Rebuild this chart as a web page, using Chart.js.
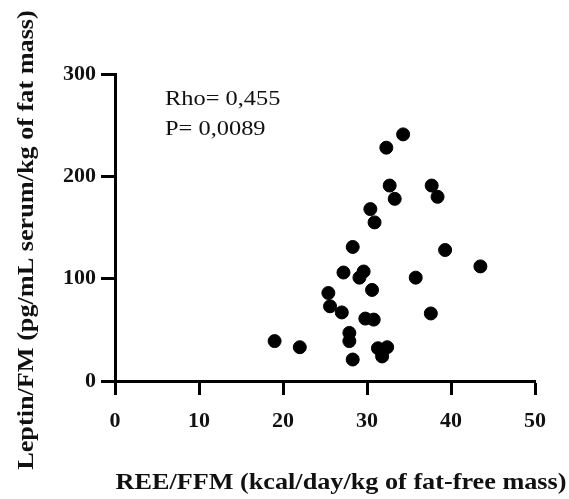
<!DOCTYPE html>
<html>
<head>
<meta charset="utf-8">
<script src="https://cdn.jsdelivr.net/npm/chart.js@4"></script>
<style>
  html, body { margin: 0; padding: 0; background: #fff; }
  #wrap { width: 569px; height: 499px; }
</style>
</head>
<body>
<div id="wrap"><canvas id="graphique"></canvas></div>
<script>
// valeurs
const reeFfm = [19.0, 22.0, 25.4, 25.6, 27.0, 27.2, 27.9, 27.9, 28.3, 28.3,
                29.1, 29.6, 29.8, 30.6, 30.8, 30.4, 30.9, 31.3, 31.8, 32.4,
                32.3, 32.7, 33.3, 34.3, 35.8, 37.6, 37.7, 38.4, 39.3, 43.5];
const leptinFm = [39, 33, 86, 73, 67, 106, 47, 39, 21, 131,
                  101, 107, 61, 89, 60, 168, 155, 32, 24, 33,
                  228, 191, 178, 241, 101, 66, 191, 180, 128, 112];
const xTicks = [0, 10, 20, 30, 40, 50];
const yTicks = [0, 100, 200, 300];
const xTitle = "REE/FFM (kcal/day/kg of fat-free mass)";
const yTitle = "Leptin/FM (pg/mL serum/kg of fat mass)";
const statsLines = ["Rho= 0,455", "P= 0,0089"];

const points = reeFfm.map((x, i) => ({ x: x, y: leptinFm[i] }));

// textes : titres des axes + statistiques (un peu etires en largeur comme l'original)
const textesPlugin = {
    id: "textes",
    afterDraw(chart) {
        const ctx = chart.ctx;
        ctx.save();
        ctx.fillStyle = "#111";
        ctx.textBaseline = "middle";

        // Rho / P
        ctx.save();
        ctx.font = "20px 'Liberation Serif'";
        ctx.textAlign = "left";
        ctx.translate(165, 0);
        ctx.scale(1.22, 1);
        ctx.fillText(statsLines[0], 0, 100);
        ctx.fillText(statsLines[1], 0, 130);
        ctx.restore();

        ctx.font = "bold 23px 'Liberation Serif'";
        ctx.textAlign = "center";

        // titre axe x
        ctx.save();
        ctx.translate(341, 483);
        ctx.scale(1.14, 1);
        ctx.fillText(xTitle, 0, 0);
        ctx.restore();

        // titre axe y (vertical)
        ctx.save();
        ctx.translate(27, 240);
        ctx.rotate(-Math.PI / 2);
        ctx.scale(1.14, 1);
        ctx.fillText(yTitle, 0, 0);
        ctx.restore();

        ctx.restore();
    }
};

const axeCommun = {
    border: { display: true, color: "#000", width: 3 },
    grid: {
        drawOnChartArea: false,
        drawTicks: true,
        tickLength: 14,
        tickWidth: 3,
        tickColor: "#000"
    }
};

new Chart(document.querySelector("#graphique"), {
    type: "scatter",
    data: {
        datasets: [{
            data: points,
            backgroundColor: "#000",
            borderColor: "#000",
            pointRadius: 6.5,
            pointHoverRadius: 6.5
        }]
    },
    options: {
        responsive: true,
        maintainAspectRatio: false,
        animation: false,
        layout: { padding: { top: 74, right: 34, left: 0, bottom: 0 } },
        plugins: { legend: { display: false }, tooltip: { enabled: false } },
        scales: {
            x: {
                ...axeCommun,
                type: "linear",
                min: 0,
                max: 50,
                afterBuildTicks: (scale) => { scale.ticks = xTicks.map(v => ({ value: v })); },
                afterFit: (scale) => { scale.height = 118; },
                ticks: {
                    color: "#111",
                    padding: 13,
                    maxRotation: 0,
                    font: { family: "'Liberation Serif'", size: 22, weight: "bold" }
                }
            },
            y: {
                ...axeCommun,
                type: "linear",
                min: 0,
                max: 300,
                afterBuildTicks: (scale) => { scale.ticks = yTicks.map(v => ({ value: v })); },
                afterFit: (scale) => { scale.width = 115; },
                ticks: {
                    color: "#111",
                    padding: 5,
                    font: { family: "'Liberation Serif'", size: 22, weight: "bold" }
                }
            }
        }
    },
    plugins: [textesPlugin]
});
</script>
</body>
</html>
